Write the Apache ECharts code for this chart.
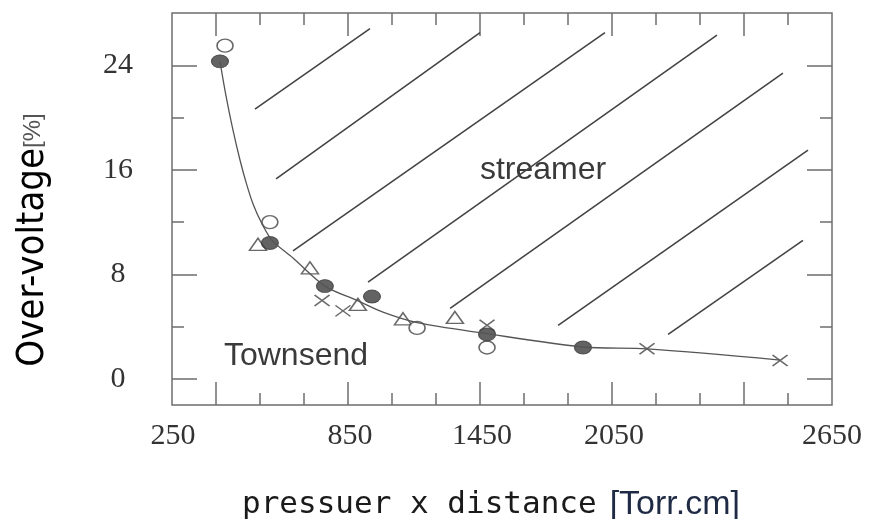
<!DOCTYPE html>
<html>
<head>
<meta charset="utf-8">
<script src="https://cdn.jsdelivr.net/npm/echarts@6/dist/echarts.min.js"></script>
<style>
html,body{margin:0;padding:0;background:#fff;}
#chart{width:875px;height:519px;}
</style>
</head>
<body>
<div id="chart"></div>
<script>
// ---- tick values / labels ----
const xMajorTicks = [250, 850, 1450, 2050, 2650];
const xMinorTicks = [450, 650, 1050, 1250, 1650, 1850, 2250, 2450, 2850];
const yMajorTicks = [0, 8, 16, 24];
const yMinorTicks = [4, 12, 20];

// ---- measured series (pressure x distance, over-voltage %) ----
const filledCircles = [[268, 24.3], [495, 10.4], [745, 7.1], [959, 6.3], [1482, 3.4], [1918, 2.4]];
const openCircles   = [[291, 25.5], [495, 12.0], [1164, 3.9], [1482, 2.4]];
const triangles     = [[441, 10.3], [677, 8.5], [895, 5.7], [1100, 4.6], [1336, 4.7]];
const crosses       = [[732, 6.0], [827, 5.2], [1482, 4.1], [2209, 2.3], [2814, 1.4]];

// ---- fitted boundary curve ----
const fitCurve = [[268, 24.3], [295, 21.7], [327, 19.05], [359, 16.75], [389, 14.9], [418, 13.4],
                  [455, 12.0], [505, 10.6], [600, 9.25], [745, 7.1], [891, 6.0], [1009, 5.1],
                  [1164, 4.3], [1464, 3.5], [1918, 2.44], [2209, 2.29], [2814, 1.44]];

// ---- hatching of the streamer region (segment end points) ----
const hatchStart = [[427, 20.65], [523, 15.3], [600, 9.8], [941, 7.4], [1314, 5.4], [1805, 4.1], [2305, 3.4]];
const hatchEnd   = [[950, 26.8], [1450, 26.5], [2018, 26.5], [2527, 26.3], [2827, 23.4], [2941, 17.5], [2918, 10.6]];

const X_MIN = 50, X_MAX = 3050, Y_MIN = -2, Y_MAX = 28;
const frameColor = '#6e6e6e';
const inkColor = '#3c3c3c';
const labelFont = '"Liberation Serif", "Times New Roman", serif';

const chart = echarts.init(document.getElementById('chart'), null, {renderer: 'canvas'});

function xAxisDef(pos, ticks, len, withLabels) {
  return {
    type: 'value', position: pos, min: X_MIN, max: X_MAX,
    axisLine: {show: false, onZero: false},
    splitLine: {show: false},
    axisTick: {show: true, inside: true, length: len, customValues: ticks,
               lineStyle: {color: frameColor, width: 1.5}},
    axisLabel: withLabels ? {
      show: true, customValues: ticks, margin: 16,
      fontFamily: labelFont, fontSize: 30, color: '#333',
      formatter: function (v) {
        if (v === xMajorTicks[0]) return '{l|' + v + '}';
        if (v === xMajorTicks[xMajorTicks.length - 1]) return '{r|' + v + '}';
        return '{n|' + v + '}';
      },
      rich: {
        l: {fontFamily: labelFont, fontSize: 30, color: '#333', padding: [0, 86, 0, 0]},
        r: {fontFamily: labelFont, fontSize: 30, color: '#333', padding: [0, 0, 0, 176]},
        n: {fontFamily: labelFont, fontSize: 30, color: '#333', padding: [0, 2, 0, 6]}
      }
    } : {show: false}
  };
}
function yAxisDef(pos, ticks, len, withLabels) {
  return {
    type: 'value', position: pos, min: Y_MIN, max: Y_MAX,
    axisLine: {show: false, onZero: false},
    splitLine: {show: false},
    axisTick: {show: true, inside: true, length: len, customValues: ticks,
               lineStyle: {color: frameColor, width: 1.5}},
    axisLabel: withLabels ? {
      show: true, customValues: ticks, margin: 54, align: 'center',
      fontFamily: labelFont, fontSize: 30, color: '#333'
    } : {show: false}
  };
}

const option = {
  backgroundColor: '#fff',
  animation: false,
  grid: {left: 172, right: 43, top: 13, bottom: 114, show: true,
         borderColor: frameColor, borderWidth: 1.5, backgroundColor: 'transparent'},
  xAxis: [
    xAxisDef('bottom', xMajorTicks, 23, true),
    xAxisDef('bottom', xMinorTicks, 12, false),
    xAxisDef('top', xMajorTicks, 23, false),
    xAxisDef('top', xMinorTicks, 12, false)
  ],
  yAxis: [
    yAxisDef('left', yMajorTicks, 25, true),
    yAxisDef('left', yMinorTicks, 12, false),
    yAxisDef('right', yMajorTicks, 25, false),
    yAxisDef('right', yMinorTicks, 12, false)
  ],
  series: [
    {
      type: 'lines', coordinateSystem: 'cartesian2d', xAxisIndex: 0, yAxisIndex: 0,
      silent: true,
      lineStyle: {color: '#444', width: 1.6, opacity: 1},
      data: hatchStart.map((s, i) => ({coords: [s, hatchEnd[i]]}))
    },
    {
      type: 'line', xAxisIndex: 0, yAxisIndex: 0, data: fitCurve,
      showSymbol: false, smooth: 0.3,
      lineStyle: {color: '#555', width: 1.3}
    },
    {
      type: 'scatter', xAxisIndex: 0, yAxisIndex: 0, data: triangles,
      symbol: 'triangle', symbolSize: [17, 12],
      itemStyle: {color: '#fff', borderColor: '#444', borderWidth: 1.5}
    },
    {
      type: 'scatter', xAxisIndex: 0, yAxisIndex: 0, data: crosses,
      symbol: 'path://M0,0L10,10M0,10L10,0', symbolSize: [15, 11],
      itemStyle: {color: 'none', borderColor: '#444', borderWidth: 1.5}
    },
    {
      type: 'scatter', xAxisIndex: 0, yAxisIndex: 0, data: openCircles,
      symbol: 'circle', symbolSize: [16, 13],
      itemStyle: {color: '#fff', borderColor: '#444', borderWidth: 1.5}
    },
    {
      type: 'scatter', xAxisIndex: 0, yAxisIndex: 0, data: filledCircles,
      symbol: 'circle', symbolSize: [17, 13],
      itemStyle: {color: inkColor, borderColor: inkColor, borderWidth: 1}
    }
  ],
  graphic: [
    {
      type: 'text', x: 33, y: 240, rotation: Math.PI / 2,
      style: {
        text: '{a|Over-voltage}{b|[%]}',
        align: 'center', verticalAlign: 'middle',
        rich: {
          a: {fontFamily: '"Liberation Sans Narrow", "Arial Narrow", "DejaVu Sans Condensed", sans-serif', fontSize: 38, fill: '#000'},
          b: {fontFamily: '"Liberation Sans", Arial, sans-serif', fontSize: 24, fill: '#555'}
        }
      }
    },
    {
      type: 'text', x: 491, y: 505,
      style: {
        text: '{a|pressuer x distance}{b|[Torr.cm]}',
        align: 'center', verticalAlign: 'middle',
        rich: {
          a: {fontFamily: '"DejaVu Sans Mono", monospace', fontSize: 31, fill: '#1a1a1a'},
          b: {fontFamily: '"Liberation Sans", Arial, sans-serif', fontSize: 34, fill: '#1f2a44', padding: [0, 0, 0, 13]}
        }
      }
    },
    {
      type: 'text', x: 543, y: 170,
      style: {text: 'streamer', align: 'center', verticalAlign: 'middle',
              fontFamily: '"Liberation Sans", Arial, sans-serif', fontSize: 32, fill: '#3a3a3a'}
    },
    {
      type: 'text', x: 296, y: 356,
      style: {text: 'Townsend', align: 'center', verticalAlign: 'middle',
              fontFamily: '"Liberation Sans", Arial, sans-serif', fontSize: 32, fill: '#3a3a3a'}
    }
  ]
};
chart.setOption(option);
</script>
</body>
</html>
